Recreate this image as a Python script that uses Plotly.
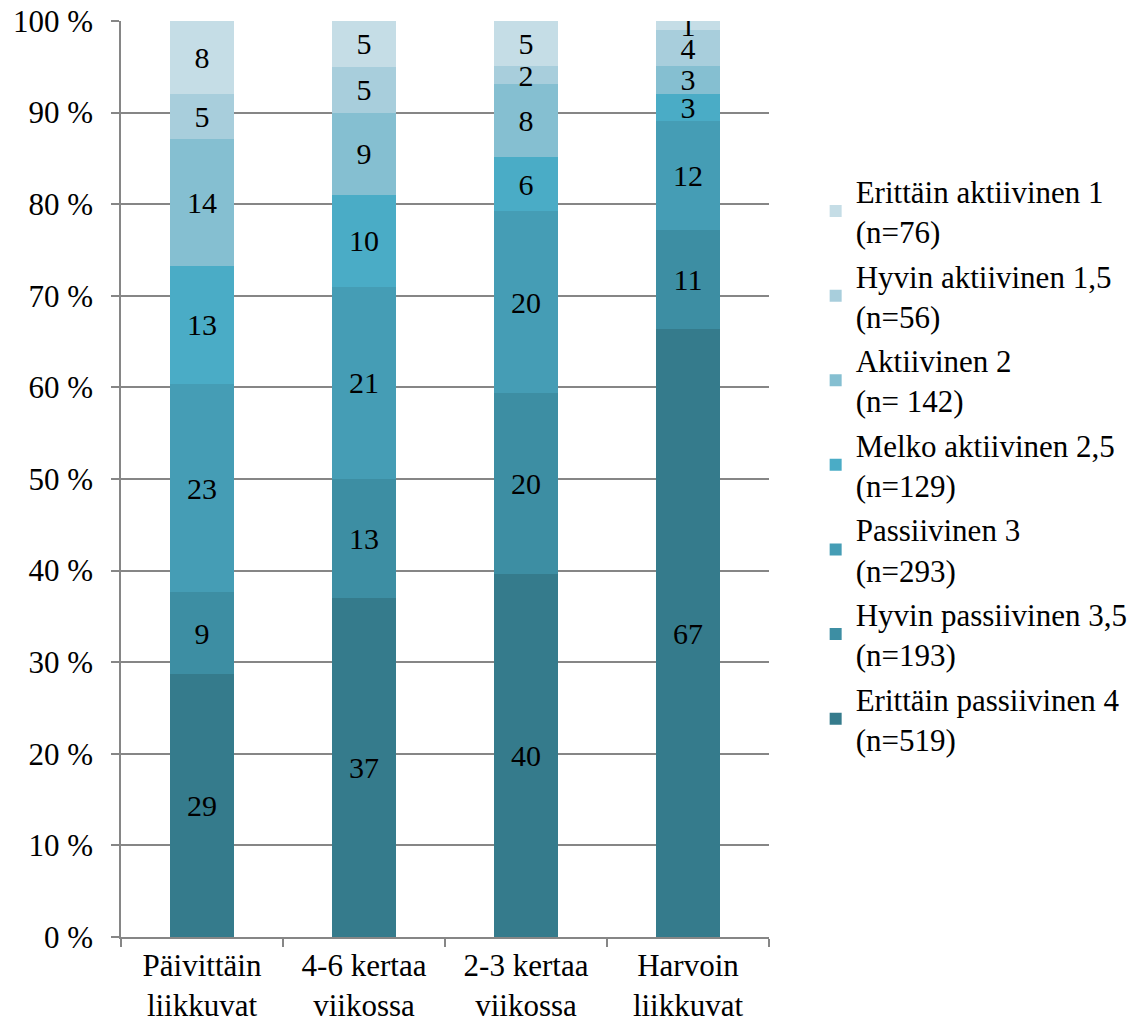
import plotly.graph_objects as go

categories = ["Päivittäin<br>liikkuvat", "4-6 kertaa<br>viikossa", "2-3 kertaa<br>viikossa", "Harvoin<br>liikkuvat"]

series_names = [
    "Erittäin passiivinen 4<br>(n=519)",
    "Hyvin passiivinen 3,5<br>(n=193)",
    "Passiivinen 3<br>(n=293)",
    "Melko aktiivinen 2,5<br>(n=129)",
    "Aktiivinen 2<br>(n= 142)",
    "Hyvin aktiivinen 1,5<br>(n=56)",
    "Erittäin aktiivinen 1<br>(n=76)",
]

erittain_passiivinen = [29, 37, 40, 67]
hyvin_passiivinen = [9, 13, 20, 11]
passiivinen = [23, 21, 20, 12]
melko_aktiivinen = [13, 10, 6, 3]
aktiivinen = [14, 9, 8, 3]
hyvin_aktiivinen = [5, 5, 2, 4]
erittain_aktiivinen = [8, 5, 5, 1]

series_values = [erittain_passiivinen, hyvin_passiivinen, passiivinen,
                 melko_aktiivinen, aktiivinen, hyvin_aktiivinen, erittain_aktiivinen]

colors = ["#357b8c", "#3d8ea3", "#459db5", "#4aacc6", "#85bfd1", "#a8cedc", "#c5dde6"]

y_ticks = [0, 10, 20, 30, 40, 50, 60, 70, 80, 90, 100]
y_tick_labels = [f"{v} %" for v in y_ticks]

FONT = "Liberation Serif"
FS = 31
FS_BAR = 30

fig = go.Figure()
n = len(series_names)
for i, (name, vals, col) in enumerate(zip(series_names, series_values, colors)):
    fig.add_trace(go.Bar(
        x=categories, y=vals, name=name,
        marker=dict(color=col, line=dict(width=0)),
        text=[str(v) for v in vals],
        textposition="inside", insidetextanchor="middle",
        textangle=0, constraintext="none",
        textfont=dict(family=FONT, size=FS_BAR, color="black"),
        legendgroup=f"g{i}", legendrank=n - i,
        hoverinfo="skip",
    ))

fig.update_layout(
    barmode="stack", barnorm="percent", bargap=0.6,
    width=1147, height=1025,
    margin=dict(l=121, r=378, t=21, b=88, autoexpand=False),
    paper_bgcolor="white", plot_bgcolor="white",
    font=dict(family=FONT, size=FS, color="black"),
    legend=dict(
        x=1.072, xanchor="left", y=0.515, yanchor="middle",
        traceorder="grouped", tracegroupgap=1,
        font=dict(family=FONT, size=FS, color="black"),
        itemwidth=30,
    ),
    xaxis=dict(
        showline=True, linecolor="#868686", linewidth=1.5,
        ticks="outside", tickson="boundaries", ticklen=8, tickcolor="#868686", tickwidth=1.5,
        showgrid=False, tickfont=dict(family=FONT, size=FS),
    ),
    yaxis=dict(
        range=[0, 100], tickmode="array", tickvals=y_ticks, ticktext=y_tick_labels,
        showline=True, linecolor="#868686", linewidth=1.5,
        ticks="outside", ticklen=8, tickcolor="#868686", tickwidth=1.5,
        ticklabelstandoff=12,
        showgrid=True, gridcolor="#868686", gridwidth=1.5,
        zeroline=False, tickfont=dict(family=FONT, size=FS),
    ),
)

fig.write_html("out.html")
